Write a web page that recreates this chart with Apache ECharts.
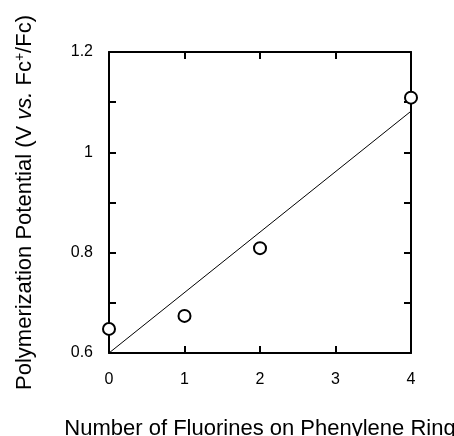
<!DOCTYPE html>
<html>
<head>
<meta charset="utf-8">
<script src="https://cdn.jsdelivr.net/npm/echarts@6/dist/echarts.min.js"></script>
<style>html,body{margin:0;padding:0;background:#fff;}#c{width:454px;height:436px;}</style>
</head>
<body>
<div id="c"></div>
<script>
// Data
var fluorines = [0, 1, 2, 4];
var potentials = [0.648, 0.674, 0.809, 1.109];
var fitX = [0, 4];
var fitY = [0.6, 1.082];
var xTickLabels = ['0', '1', '2', '3', '4'];
var yTickLabels = ['0.6', '0.8', '1', '1.2'];
var xTitle = 'Number of Fluorines on Phenylene Ring';

var pts = fluorines.map(function (x, i) { return [x, potentials[i]]; });
var fit = fitX.map(function (x, i) { return [x, fitY[i]]; });

var font = '"Liberation Sans", Arial, Helvetica, sans-serif';
var axisLine = { show: true, onZero: false, lineStyle: { color: '#000', width: 2 } };
var tick = { show: true, inside: true, length: 7, lineStyle: { color: '#000', width: 2 } };

var chart = echarts.init(document.getElementById('c'), null, { renderer: 'canvas' });
chart.setOption({
  animation: false,
  backgroundColor: '#fff',
  grid: { left: 109, right: 43, top: 52, bottom: 83, containLabel: false, outerBoundsMode: 'none' },
  xAxis: [{
    type: 'value', min: 0, max: 4, interval: 1, position: 'bottom',
    axisLine: axisLine, axisTick: tick, splitLine: { show: false },
    axisLabel: { margin: 19, color: '#000', fontSize: 16, fontFamily: font,
      formatter: function (v) { return xTickLabels[Math.round(v)]; } },
    name: xTitle, nameLocation: 'middle', nameGap: 65,
    nameTextStyle: { color: '#000', fontSize: 22, fontFamily: font }
  }, {
    type: 'value', min: 0, max: 4, interval: 1, position: 'top',
    axisLine: axisLine, axisTick: tick, splitLine: { show: false },
    axisLabel: { show: false }
  }],
  yAxis: [{
    type: 'value', min: 0.6, max: 1.2, interval: 0.1, position: 'left',
    axisLine: axisLine, axisTick: tick, splitLine: { show: false },
    axisLabel: { margin: 16, color: '#000', fontSize: 16, fontFamily: font,
      formatter: function (v) {
        var k = Math.round(v * 10);
        if (k % 2 !== 0) return '';
        return yTickLabels[(k - 6) / 2];
      } },
    name: 'Polymerization Potential (V {i|vs.} Fc{sup|+}/Fc)',
    nameLocation: 'middle', nameGap: 73, nameRotate: 90,
    nameTextStyle: {
      color: '#000', fontSize: 22, fontFamily: font,
      rich: {
        i: { fontStyle: 'italic', fontSize: 22, fontFamily: font, color: '#000' },
        sup: { fontSize: 14, fontFamily: font, color: '#000', verticalAlign: 'top', padding: [0, 0, 9, 0] }
      }
    }
  }, {
    type: 'value', min: 0.6, max: 1.2, interval: 0.1, position: 'right',
    axisLine: axisLine, axisTick: tick, splitLine: { show: false },
    axisLabel: { show: false }
  }],
  series: [{
    type: 'line', data: fit, showSymbol: false, symbol: 'none',
    lineStyle: { color: '#000', width: 1 }, z: 2
  }, {
    type: 'scatter', data: pts, symbol: 'circle', symbolSize: 12, clip: false,
    itemStyle: { color: '#fff', borderColor: '#000', borderWidth: 2, opacity: 1 }, z: 5
  }]
});
</script>
</body>
</html>
